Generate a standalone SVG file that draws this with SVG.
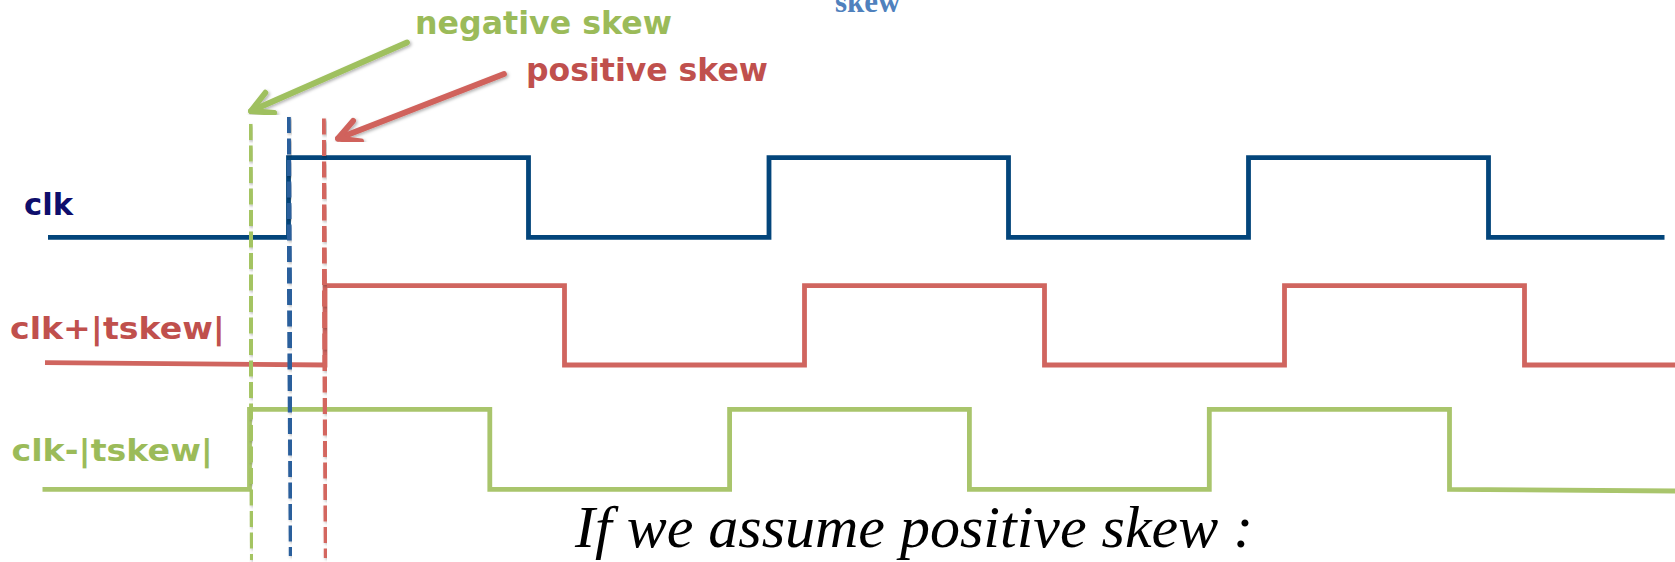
<svg xmlns="http://www.w3.org/2000/svg" width="1675" height="562" viewBox="0 0 1675 562">
  <defs>
    <style>
      .wave { fill: none; stroke-width: 4.8; stroke-linejoin: miter; stroke-linecap: butt; }
      .clk { stroke: #03457b; }
      .clkp { stroke: #d0655f; }
      .clkm { stroke: #a9c56c; }
      .guide { fill: none; stroke-width: 5; stroke-dasharray: 16 5.5; filter: url(#soft); }
      .lbl { font-family: "DejaVu Sans", Verdana, sans-serif; font-weight: bold; }
      .arrow { fill: none; stroke-width: 5.8; stroke-linecap: round; filter: url(#soft); }
    </style>
    <filter id="soft" x="-20%" y="-5%" width="140%" height="110%">
      <feDropShadow dx="1.5" dy="1.5" stdDeviation="1.6" flood-color="#000" flood-opacity="0.3"/>
    </filter>
    <marker id="headGreen" markerUnits="userSpaceOnUse" viewBox="-26 -14 30 28" refX="0" refY="0" markerWidth="30" markerHeight="28" orient="auto" overflow="visible">
      <path d="M -20.5 -11 L 0 0 L -20.5 11" fill="none" stroke="#9fc05e" stroke-width="5.8" stroke-linecap="round" stroke-linejoin="round"/>
    </marker>
    <marker id="headRed" markerUnits="userSpaceOnUse" viewBox="-26 -14 30 28" refX="0" refY="0" markerWidth="30" markerHeight="28" orient="auto" overflow="visible">
      <path d="M -20.5 -11 L 0 0 L -20.5 11" fill="none" stroke="#d0625c" stroke-width="5.8" stroke-linecap="round" stroke-linejoin="round"/>
    </marker>
  </defs>

  <rect width="1675" height="562" fill="#ffffff"/>

  <!-- clipped subscript at the top edge -->
  <text x="835" y="12" font-family="'Liberation Serif', 'Times New Roman', serif" font-weight="bold" font-size="31" fill="#4f81bd">skew</text>

  <!-- waveforms -->
  <g id="signal-clk">
    <text class="lbl" x="24" y="215" font-size="30" fill="#0e0e6c" textLength="49" lengthAdjust="spacingAndGlyphs">clk</text>
    <path class="wave clk" d="M48 237.4 H288.5 V157.6 H528.5 V237.4 H769 V157.6 H1008.5 V237.4 H1248.5 V157.6 H1488.5 V237.4 H1664.5"/>
  </g>

  <g id="signal-clk-plus">
    <text class="lbl" x="10" y="338.5" font-size="30" fill="#c0504d" textLength="215" lengthAdjust="spacingAndGlyphs">clk+|tskew|</text>
    <path class="wave clkp" d="M45 362.6 L325 365 V285.7 H564.5 V365 H804.5 V285.7 H1044.5 V365 H1284.5 V285.7 H1524.5 V365 H1675"/>
  </g>

  <g id="signal-clk-minus">
    <text class="lbl" x="11.5" y="460.5" font-size="30" fill="#9bbb59" textLength="201.5" lengthAdjust="spacingAndGlyphs">clk-|tskew|</text>
    <path class="wave clkm" d="M42.5 489.3 H249.5 V409.3 H489.8 V489.3 H729.6 V409.3 H969.4 V489.3 H1209.3 V409.3 H1449.5 V489.3 L1675 491"/>
  </g>

  <!-- dashed edge references -->
  <g id="edge-guides">
    <line class="guide" x1="250" y1="124" x2="252.5" y2="560" stroke="#a4c462"/>
    <line class="guide" x1="288.3" y1="117" x2="291.3" y2="556" stroke="#2b5f9c"/>
    <line class="guide" x1="323.3" y1="118.5" x2="326.3" y2="558" stroke="#d3665f"/>
  </g>

  <!-- skew annotations -->
  <g id="label-negative">
    <text class="lbl" x="415" y="34" font-size="32" fill="#9bbb59" textLength="257" lengthAdjust="spacingAndGlyphs">negative skew</text>
  </g>
  <g id="label-positive">
    <text class="lbl" x="526" y="81" font-size="32" fill="#c0504d" textLength="242" lengthAdjust="spacingAndGlyphs">positive skew</text>
  </g>

  <g id="connectors">
    <path class="arrow" d="M407 42.5 L251 111" stroke="#9fc05e" marker-end="url(#headGreen)"/>
    <path class="arrow" d="M504 74 L338 138.5" stroke="#d0625c" marker-end="url(#headRed)"/>
  </g>

  <!-- caption -->
  <text x="575" y="547" font-family="'Liberation Serif', 'Times New Roman', serif" font-style="italic" font-size="60" fill="#000000">If we assume positive skew :</text>
</svg>
